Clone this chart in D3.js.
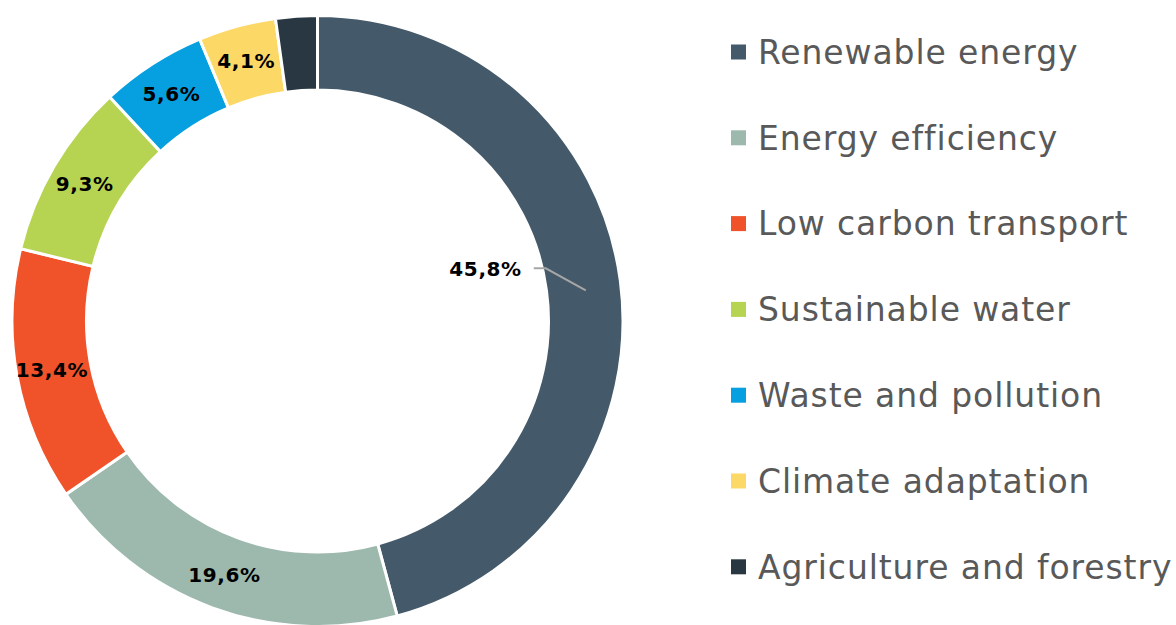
<!DOCTYPE html>
<html>
<head>
<meta charset="utf-8">
<script src="https://cdn.jsdelivr.net/npm/d3@7"></script>
<style>
  html, body { margin: 0; padding: 0; background: #ffffff; }
  svg { display: block; }
</style>
</head>
<body>
<svg id="chart" width="1176" height="625"></svg>
<script>
const categories = ["Renewable energy", "Energy efficiency", "Low carbon transport", "Sustainable water", "Waste and pollution", "Climate adaptation", "Agriculture and forestry"];
const values = [45.8, 19.6, 13.4, 9.3, 5.6, 4.1, 2.2];
const labels = ["45,8%", "19,6%", "13,4%", "9,3%", "5,6%", "4,1%", ""];
const colors = ["#44596a", "#9db8ad", "#f0532a", "#b6d452", "#069fdf", "#fcd866", "#283741"];

const svg = d3.select("#chart");
const cx = 317.5, cy = 321, rOuter = 305.5, rInner = 231;

const data = categories.map((c, i) => ({ name: c, value: values[i], label: labels[i], color: colors[i] }));
const pie = d3.pie().sort(null).value(d => d.value);
const arcs = pie(data);
const arc = d3.arc().innerRadius(rInner).outerRadius(rOuter);
const labelArc = d3.arc().innerRadius(270).outerRadius(270);

const g = svg.append("g").attr("transform", `translate(${cx},${cy})`);
g.selectAll("path.slice").data(arcs).join("path")
  .attr("class", "slice")
  .attr("d", arc)
  .attr("fill", d => d.data.color)
  .attr("stroke", "#ffffff")
  .attr("stroke-width", 3);

const fontLbl = "'DejaVu Sans', Verdana, sans-serif";
// ring labels (all but the first)
g.selectAll("text.lbl").data(arcs.filter((d, i) => i > 0 && d.data.label)).join("text")
  .attr("class", "lbl")
  .attr("transform", d => `translate(${labelArc.centroid(d)})`)
  .attr("text-anchor", "middle")
  .attr("dy", "0.36em")
  .attr("font-family", fontLbl)
  .attr("font-weight", "bold")
  .attr("font-size", 20)
  .attr("letter-spacing", 0.6)
  .attr("fill", "#000000")
  .text(d => d.data.label);

// first slice label placed inside the hole with leader line
const first = arcs[0];
const a0 = (first.startAngle + first.endAngle) / 2 + 0.018;
const pEnd = [Math.sin(a0) * 270, -Math.cos(a0) * 270];
const pMid = [pEnd[0] - 40, pEnd[1] - 22];
const pStart = [pMid[0] - 12, pMid[1]];
g.append("polyline")
  .attr("points", [pStart, pMid, pEnd].map(p => p.join(",")).join(" "))
  .attr("fill", "none")
  .attr("stroke", "#a6a6a6")
  .attr("stroke-width", 2);
g.append("text")
  .attr("x", pStart[0] - 12)
  .attr("y", pStart[1])
  .attr("dy", "0.36em")
  .attr("text-anchor", "end")
  .attr("font-family", fontLbl)
  .attr("font-weight", "bold")
  .attr("font-size", 20)
  .attr("letter-spacing", 0.6)
  .attr("fill", "#000000")
  .text(first.data.label);

// legend
const legend = svg.append("g").attr("transform", "translate(731,52)");
const rows = legend.selectAll("g.row").data(data).join("g")
  .attr("class", "row")
  .attr("transform", (d, i) => `translate(0,${i * 85.8})`);
rows.append("rect")
  .attr("x", 0).attr("y", -7.5).attr("width", 15).attr("height", 15)
  .attr("fill", d => d.color);
rows.append("text")
  .attr("x", 27).attr("y", 0).attr("dy", "0.36em")
  .attr("font-family", fontLbl)
  .attr("font-size", 33)
  .attr("letter-spacing", 0.9)
  .attr("fill", "#595959")
  .text(d => d.name);
</script>
</body>
</html>
